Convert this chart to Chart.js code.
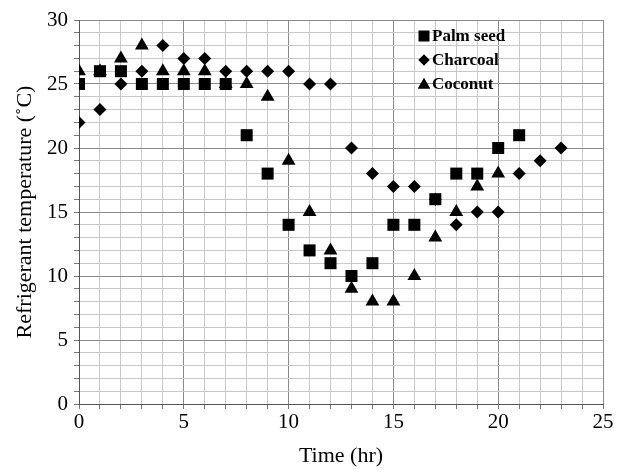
<!DOCTYPE html>
<html lang="en">
<head>
  <meta charset="UTF-8">
  <title>Refrigerant temperature</title>
  <script src="https://cdn.jsdelivr.net/npm/chart.js"></script>
  <style>
    body {
      margin: 0;
      background-color: #ffffff;
    }
    #wrap {
      width: 620px;
      height: 469px;
    }
  </style>
</head>
<body>

  <div id="wrap"><canvas id="tempChart" width="620" height="469"></canvas></div>

  <script>
    // time in hours
    const palmTime = [0, 1, 2, 3, 4, 5, 6, 7, 8, 9, 10, 11, 12, 13, 14, 15, 16, 17, 18, 19, 20, 21];
    const palmTemp = [25, 26, 26, 25, 25, 25, 25, 25, 21, 18, 14, 12, 11, 10, 11, 14, 14, 16, 18, 18, 20, 21];

    const charcoalTime = [0, 1, 2, 3, 4, 5, 6, 7, 8, 9, 10, 11, 12, 13, 14, 15, 16, 17, 18, 19, 20, 21, 22, 23];
    const charcoalTemp = [22, 23, 25, 26, 28, 27, 27, 26, 26, 26, 26, 25, 25, 20, 18, 17, 17, 16, 14, 15, 15, 18, 19, 20];

    const coconutTime = [0, 1, 2, 3, 4, 5, 6, 7, 8, 9, 10, 11, 12, 13, 14, 15, 16, 17, 18, 19, 20];
    const coconutTemp = [26, 26, 27, 28, 26, 26, 26, 25, 25, 24, 19, 15, 12, 9, 8, 8, 10, 13, 15, 17, 18];

    const xTicks = [0, 5, 10, 15, 20, 25];
    const yTicks = [0, 5, 10, 15, 20, 25, 30];

    const toPoints = (xs, ys) => xs.map((x, i) => ({ x: x, y: ys[i] }));

    const serif = "'Liberation Serif', 'Times New Roman', serif";

    // legend drawn inside the plot, top right
    const innerLegend = {
      id: "innerLegend",
      afterDraw(chart) {
        const ctx = chart.ctx;
        const x0 = 424, y0 = 36, gap = 24;
        const sizes = [7.5, 5.5, 7];
        ctx.save();
        ctx.font = "bold 17px " + serif;
        ctx.textBaseline = "middle";
        chart.data.datasets.forEach((ds, i) => {
          const y = y0 + i * gap;
          ctx.fillStyle = "#000";
          ctx.strokeStyle = "#000";
          Chart.helpers.drawPoint(ctx, { pointStyle: ds.pointStyle, radius: sizes[i], borderWidth: 0 }, x0, y + (ds.pointStyle === "triangle" ? 1 : 0));
          ctx.fill();
          ctx.fillStyle = "#000";
          ctx.fillText(ds.label, x0 + 8, y + 1);
        });
        ctx.restore();
      }
    };

    new Chart(document.getElementById("tempChart"), {
      type: "scatter",
      data: {
        datasets: [
          {
            label: "Palm seed",
            data: toPoints(palmTime, palmTemp),
            pointStyle: "rect",
            pointRadius: 8.5,
            backgroundColor: "#000",
            borderColor: "#000",
            borderWidth: 0
          },
          {
            label: "Charcoal",
            data: toPoints(charcoalTime, charcoalTemp),
            pointStyle: "rectRot",
            pointRadius: 6.5,
            backgroundColor: "#000",
            borderColor: "#000",
            borderWidth: 0
          },
          {
            label: "Coconut",
            data: toPoints(coconutTime, coconutTemp),
            pointStyle: "triangle",
            pointRadius: 8,
            backgroundColor: "#000",
            borderColor: "#000",
            borderWidth: 0
          }
        ]
      },
      options: {
        responsive: false,
        animation: false,
        events: [],
        layout: { padding: { left: 0, right: 17, top: 20, bottom: 0 } },
        plugins: {
          legend: { display: false },
          tooltip: { enabled: false }
        },
        scales: {
          x: {
            type: "linear",
            min: 0,
            max: 25,
            afterFit: s => { s.height = 65; },
            grid: {
              color: c => (c.tick && c.tick.value % 5 === 0 ? "#8a8a8a" : "#c8c8c8"),
              tickLength: 5,
              tickColor: "#777"
            },
            border: { color: "#555", width: 1 },
            ticks: {
              stepSize: 1,
              autoSkip: false,
              maxRotation: 0,
              padding: 1,
              color: "#000",
              font: { family: serif, size: 21 },
              callback: v => (xTicks.includes(v) ? v : "")
            },
            title: {
              display: true,
              text: "Time (hr)",
              color: "#000",
              font: { family: serif, size: 22 },
              padding: { top: 0, bottom: 0 }
            }
          },
          y: {
            type: "linear",
            min: 0,
            max: 30,
            afterFit: s => { s.width = 79; },
            grid: {
              color: c => (c.tick && c.tick.value % 5 === 0 ? "#8a8a8a" : "#c8c8c8"),
              tickLength: 5,
              tickColor: "#777"
            },
            border: { color: "#555", width: 1 },
            ticks: {
              stepSize: 1,
              autoSkip: false,
              padding: 6,
              color: "#000",
              font: { family: serif, size: 21 },
              callback: v => (yTicks.includes(v) ? v : "")
            },
            title: {
              display: true,
              text: "Refrigerant temperature (˚C)",
              color: "#000",
              font: { family: serif, size: 22 },
              padding: { top: 12, bottom: 12 }
            }
          }
        }
      },
      plugins: [innerLegend]
    });
  </script>

</body>
</html>
